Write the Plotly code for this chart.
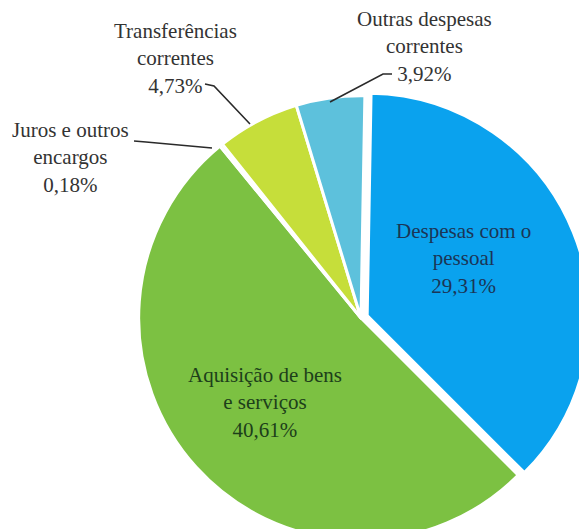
import plotly.graph_objects as go

labels = ["Despesas com o pessoal", "Aquisição de bens e serviços", "Juros e outros encargos",
          "Transferências correntes", "Outras despesas correntes"]
values = [29.31, 40.61, 0.18, 4.73, 3.92]
pct_text = ["29,31%", "40,61%", "0,18%", "4,73%", "3,92%"]
label_lines = ["Despesas com o<br>pessoal", "Aquisição de bens<br>e serviços", "Juros e outros<br>encargos",
               "Transferências<br>correntes", "Outras despesas<br>correntes"]
colors = ["#0AA2EE", "#7CC142", "#E3EDA0", "#C6DE3A", "#5DC1DC"]

W, H = 600, 550
OFF = 8  # page body margin


def px(x, y):
    return (x - OFF) / W, 1 - (y - OFF) / H


# pie centre / half box size in screen pixels
cx, cy, half = 361, 318, 229
fig = go.Figure(go.Pie(
    labels=labels,
    values=values,
    sort=False,
    direction="clockwise",
    rotation=1,
    pull=[0.03, 0, 0, 0, 0],
    marker=dict(colors=colors, line=dict(color="white", width=3)),
    textinfo="none",
    hoverinfo="label+percent",
    domain=dict(x=[(cx - OFF - half) / W, (cx - OFF + half) / W],
                y=[(H - (cy - OFF) - half) / H, (H - (cy - OFF) + half) / H]),
    showlegend=False,
))

font = "Liberation Serif, Times New Roman, serif"
annots = [
    # (index, x, y, color)
    (0, 463, 258, "#1B3556"),
    (1, 265, 402, "#1D3F1A"),
    (2, 70, 157, "#333333"),
    (3, 175, 58, "#333333"),
    (4, 425, 46, "#333333"),
]
for i, x, y, c in annots:
    ax, ay = px(x, y)
    fig.add_annotation(x=ax, y=ay, xref="paper", yref="paper", showarrow=False,
                       xanchor="center", yanchor="middle",
                       text=label_lines[i] + "<br>" + pct_text[i],
                       font=dict(family=font, size=21, color=c), align="center")

leaders = [
    [(205, 84), (214, 86), (250, 124)],
    [(134, 141), (146, 142), (212, 148)],
    [(392, 74), (383, 74), (330, 102)],
]
for pts in leaders:
    path = ""
    for k, (x, y) in enumerate(pts):
        qx, qy = px(x, y)
        path += ("M" if k == 0 else " L") + f" {qx} {qy}"
    fig.add_shape(type="path", path=path, xref="paper", yref="paper",
                  line=dict(color="#2A2A2A", width=1.6))

fig.update_layout(width=W, height=H, margin=dict(l=0, r=0, t=0, b=0),
                  paper_bgcolor="white", plot_bgcolor="white")
fig.write_html("out.html")
